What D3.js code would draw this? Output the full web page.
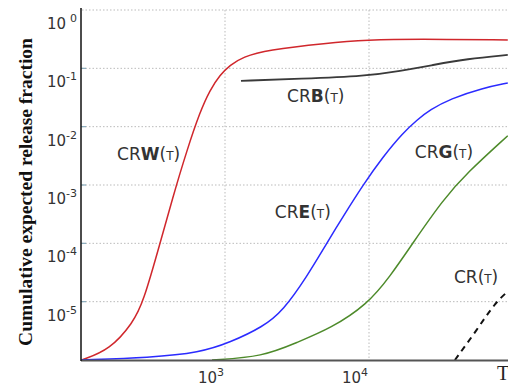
<!DOCTYPE html>
<html>
<head>
<meta charset="utf-8">
<script src="https://cdn.jsdelivr.net/npm/d3@7"></script>
<style>
  body { margin: 0; background: #fff; }
  svg { display: block; }
  .grid line { stroke: #bbb; stroke-dasharray: 1.5,2; stroke-width: 1; }
  .lbl { font-family: "DejaVu Sans", sans-serif; fill: #333; }
</style>
</head>
<body>
<div id="chart"></div>
<script>
// values: [T, release fraction]
const crw = [[101,1e-6],[159,1.5e-6],[230,4.4e-6],[270,9.6e-6],[354,1e-4],[435,6.3e-4],[545,4e-3],
  [670,0.0179],[787,0.0427],[923,0.077],[1084,0.114],[1333,0.157],[1950,0.207],
  [5100,0.272],[9690,0.306],[21500,0.318],[92000,0.306]];
const crb = [[1291,0.061],[3320,0.066],[9690,0.074],[16400,0.090],[27800,0.114],[47800,0.145],[92000,0.17]];
const cre = [[101,1e-6],[301,1.1e-6],[670,1.34e-6],[1084,2e-6],[1836,3.7e-6],[2530,7.0e-6],[3710,2.7e-5],
  [5110,1.02e-4],[6590,2.85e-4],[9080,1e-3],[12500,3.04e-3],[17200,7.8e-3],[21500,0.013],
  [26500,0.0194],[36600,0.030],[61900,0.046],[92000,0.056]];
const crg = [[813,1e-6],[1836,1.14e-6],[3160,2e-6],[5440,3.5e-6],[9690,8.9e-6],[14000,2.7e-5],
  [20200,1.02e-4],[32700,5.6e-4],[48000,1.62e-3],[92000,7e-3]];
const cr = [[39500,1e-6],[56200,3.3e-6],[75000,9.5e-6],[92000,1.5e-5]];

const yTicks = [1, 1e-1, 1e-2, 1e-3, 1e-4, 1e-5];
const yTickExp = ["0", "-1", "-2", "-3", "-4", "-5"];
const xTicks = [1e3, 1e4];
const xTickExp = ["3", "4"];

const labels = [
  {name: "CR", bold: "W", T: 178, v: 2.7e-3},
  {name: "CR", bold: "B", T: 2700, v: 0.0266},
  {name: "CR", bold: "E", T: 2220, v: 2.74e-4},
  {name: "CR", bold: "G", T: 20800, v: 2.9e-3},
  {name: "CR", bold: "", T: 38900, v: 2.1e-5}
];

const W = 508, H = 388;
const x = d3.scaleLog().domain([100, 1e5]).range([81, 513]);
const y = d3.scaleLog().domain([1e-6, 1]).range([360, 10]);

const svg = d3.select("#chart").append("svg").attr("width", W).attr("height", H);

svg.append("defs").append("clipPath").attr("id", "clip")
  .append("rect").attr("x", 81).attr("y", 0).attr("width", W - 81).attr("height", 360);

// grid
const grid = svg.append("g").attr("class", "grid");
grid.selectAll(".gy").data(yTicks).enter().append("line")
  .attr("x1", 82).attr("x2", W).attr("y1", d => y(d)).attr("y2", d => y(d));
grid.selectAll(".gx").data(xTicks).enter().append("line")
  .attr("x1", d => x(d)).attr("x2", d => x(d)).attr("y1", 10).attr("y2", 360);

// small ticks on the y axis
svg.selectAll(".yt").data(yTicks.slice(1)).enter().append("line")
  .attr("x1", 81).attr("x2", 86).attr("y1", d => y(d)).attr("y2", d => y(d))
  .attr("stroke", "#8ab").attr("stroke-width", 1.2);

// y tick labels
const yl = svg.selectAll(".ylab").data(yTicks).enter().append("text")
  .attr("class", "lbl").attr("text-anchor", "end")
  .attr("x", 77).attr("y", d => y(d) + 19).style("font-size", "15px");
yl.append("tspan").text("10");
yl.append("tspan").attr("dy", -7).attr("dx", (d, i) => i == 0 ? 4 : 0)
  .style("font-size", "11px").text((d, i) => yTickExp[i]);

// x tick labels
const xl = svg.selectAll(".xlab").data(xTicks).enter().append("text")
  .attr("class", "lbl").attr("text-anchor", "end")
  .attr("x", d => x(d) - 1).attr("y", 383).style("font-size", "15px");
xl.append("tspan").text("10");
xl.append("tspan").attr("dy", -7).style("font-size", "11px").text((d, i) => xTickExp[i]);

// curves
const line = d3.line().x(d => x(d[0])).y(d => y(d[1])).curve(d3.curveBasis);
const plot = svg.append("g").attr("clip-path", "url(#clip)");
const series = [
  {data: crw, color: "#d0272c", w: 1.5},
  {data: crb, color: "#3a3a3a", w: 1.8},
  {data: cre, color: "#2b2bff", w: 1.5},
  {data: crg, color: "#4d8a2a", w: 1.5},
  {data: cr, color: "#111", w: 2, dash: "6,5"}
];
plot.selectAll(".curve").data(series).enter().append("path")
  .attr("d", d => line(d.data))
  .attr("fill", "none")
  .attr("stroke", d => d.color)
  .attr("stroke-width", d => d.w)
  .attr("stroke-dasharray", d => d.dash || null);

// axes lines
svg.append("line").attr("x1", 81).attr("x2", W).attr("y1", 360.5).attr("y2", 360.5)
  .attr("stroke", "#555").attr("stroke-width", 2);
svg.append("line").attr("x1", 81).attr("x2", 81).attr("y1", 8).attr("y2", 361)
  .attr("stroke", "#111").attr("stroke-width", 1.5);

// curve labels
const cl = svg.selectAll(".clab").data(labels).enter().append("text")
  .attr("class", "lbl").attr("x", d => x(d.T)).attr("y", d => y(d.v))
  .style("font-size", "17px");
cl.append("tspan").text(d => d.name);
cl.append("tspan").style("font-weight", "bold").text(d => d.bold);
cl.append("tspan").text("(");
cl.append("tspan").style("font-size", "12px").text("T");
cl.append("tspan").text(")");

// axis titles
svg.append("text").attr("x", 497).attr("y", 380)
  .style("font-family", "'Liberation Serif', serif").style("font-size", "20px")
  .attr("fill", "#222").text("T");

svg.append("text")
  .attr("transform", "translate(32,192) rotate(-90)")
  .attr("text-anchor", "middle")
  .style("font-family", "'Liberation Serif', serif").style("font-weight", "bold")
  .style("font-size", "19.5px").attr("fill", "#111")
  .text("Cumulative expected release fraction");
</script>
</body>
</html>
